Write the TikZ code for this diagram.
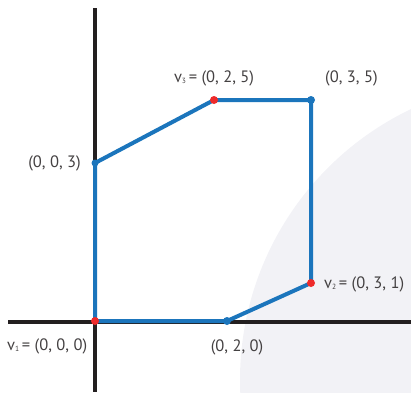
\documentclass[tikz,border=0pt]{standalone}
\usepackage{fontspec}
\setmainfont{PT Sans}
\definecolor{polyblue}{HTML}{1B75BC}
\definecolor{ptred}{HTML}{EE2A2A}
\definecolor{axisblack}{HTML}{231F20}
\definecolor{wmgray}{HTML}{F2F2F6}
\tikzset{
  axisline/.style={draw=axisblack, line width=4pt},
  polyline/.style={draw=polyblue, line width=4pt, line join=round},
  reddot/.style={circle, fill=ptred, inner sep=0pt, minimum size=8pt},
  bluedot/.style={circle, fill=polyblue, inner sep=0pt, minimum size=8pt},
  lbl/.style={font=\fontsize{16.5}{19}\selectfont, text=axisblack!85, inner sep=0pt},
}
\newcommand{\vsub}[2]{v\raisebox{-0.2ex}{\fontsize{7.5}{8}\selectfont #1}\,#2}
\begin{document}
\begin{tikzpicture}[x=1pt,y=-1pt]
\useasboundingbox (0,0) rectangle (411,392);
% faint background watermark
\begin{scope}
\clip (0,0) rectangle (411,392);
\fill[wmgray] (540,380) circle (300);
\draw[white, line width=3pt] (560,400) ++(150:250) arc (150:110:250);
\draw[white, line width=2.5pt] (600,440) ++(155:290) arc (155:120:290);
\end{scope}
% axes
\coordinate (ytop) at (95,8);
\coordinate (ybot) at (95,392);
\coordinate (xl) at (8,322);
\coordinate (xr) at (411,322);
\draw[axisline] (ytop) -- (ybot);
\draw[axisline] (xl) -- (xr);
% vertices
\coordinate (v1) at (95,321);
\coordinate (p003) at (95,163);
\coordinate (v3) at (214,100);
\coordinate (p035) at (311,100);
\coordinate (v2) at (311,283);
\coordinate (p020) at (227,321);
\draw[polyline] (v1) -- (p003) -- (v3) -- (p035) -- (v2) -- (p020) -- cycle;
\node[reddot] (dv1) at (v1) {};
\node[bluedot, minimum size=7pt] (d003) at (p003) {};
\node[reddot] (dv3) at (v3) {};
\node[bluedot] (d035) at (p035) {};
\node[reddot] (dv2) at (v2) {};
\node[bluedot] (d020) at (p020) {};
% labels
\node[lbl, anchor=east] (l003) at (81,163) {(0, 0, 3)};
\node[lbl] (lv3) at (214,78) {\vsub{3}{= (0, 2, 5)}};
\node[lbl, anchor=west] (l035) at (325,78) {(0, 3, 5)};
\node[lbl, anchor=west] (lv2) at (324,284) {\vsub{2}{= (0, 3, 1)}};
\node[lbl] (l020) at (237,347) {(0, 2, 0)};
\node[lbl, anchor=west] (lv1) at (7,346) {\vsub{1}{= (0, 0, 0)}};
\end{tikzpicture}
\end{document}
